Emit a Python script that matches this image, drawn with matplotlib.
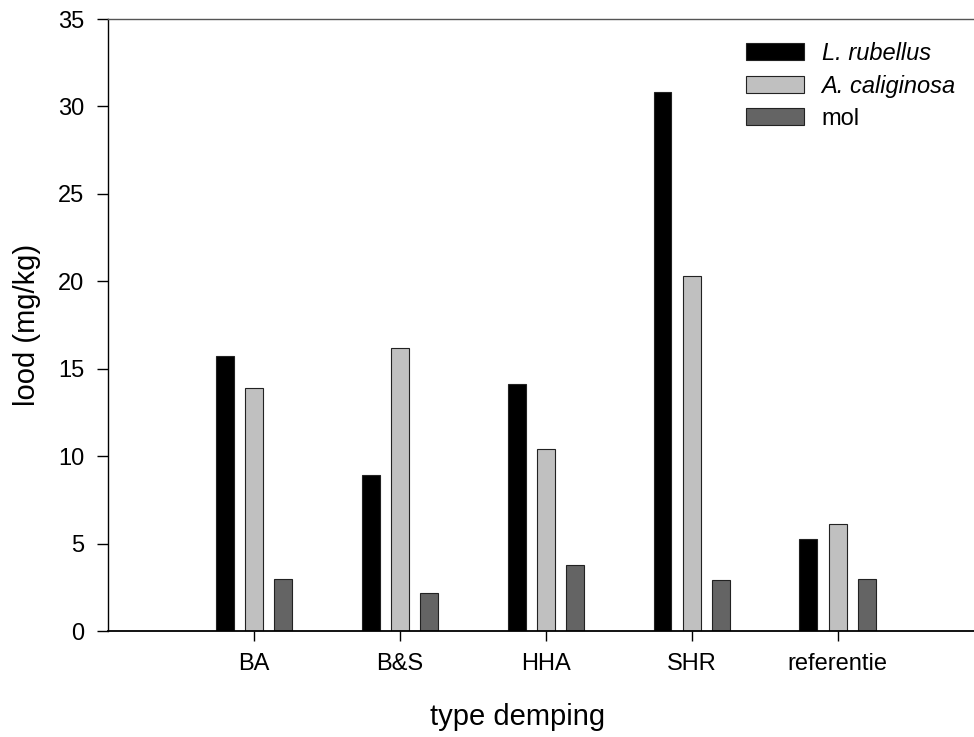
import numpy as np
import matplotlib
matplotlib.use('Agg')
import matplotlib.pyplot as plt

plt.rcParams['font.family'] = ['Liberation Sans', 'DejaVu Sans']

# data
categories = ['BA', 'B&S', 'HHA', 'SHR', 'referentie']
rubellus = [15.7, 8.9, 14.15, 30.85, 5.25]
caliginosa = [13.9, 16.2, 10.4, 20.3, 6.1]
mol = [2.95, 2.2, 3.75, 2.92, 2.97]

series = [
    ('L. rubellus', rubellus, '#000000', 'italic'),
    ('A. caliginosa', caliginosa, '#c0c0c0', 'italic'),
    ('mol', mol, '#646464', 'normal'),
]

fig = plt.figure(figsize=(9.74, 7.37), dpi=100)
ax = fig.add_axes([0.1109, 0.1438, 1.0 - 0.1109, 0.9742 - 0.1438])

x = np.arange(len(categories))
width = 0.123
step = 0.2
for i, (name, vals, col, _) in enumerate(series):
    ax.bar(x + (i - 1) * step, vals, width, color=col, edgecolor='#222222',
           linewidth=0.8, label=name, zorder=2)

ax.set_xlim(-1.0, 4.935)
ax.set_ylim(0, 35)
ax.set_yticks(np.arange(0, 36, 5))
ax.set_xticks(x)
ax.set_xticklabels(categories)

ax.spines['right'].set_visible(False)
ax.spines['top'].set_color('#555555')
ax.spines['top'].set_linewidth(1.0)
ax.spines['left'].set_linewidth(1.0)
ax.spines['bottom'].set_linewidth(1.3)

ax.tick_params(axis='y', direction='out', length=8, width=1, pad=9, labelsize=17)
ax.tick_params(axis='x', direction='out', length=7, width=1, pad=9, labelsize=17)

ax.set_xlabel('type demping', fontsize=21)
ax.xaxis.set_label_coords(0.473, -0.118)
ax.set_ylabel('lood (mg/kg)', fontsize=21, labelpad=12)

leg = ax.legend(loc='upper right', bbox_to_anchor=(0.998, 0.99), frameon=False,
                fontsize=17, handlelength=2.45, handleheight=0.72,
                labelspacing=0.43, handletextpad=0.75, borderaxespad=0.3)
for txt, (_, _, _, style) in zip(leg.get_texts(), series):
    txt.set_fontstyle(style)

fig.savefig('out.png', dpi=100)
